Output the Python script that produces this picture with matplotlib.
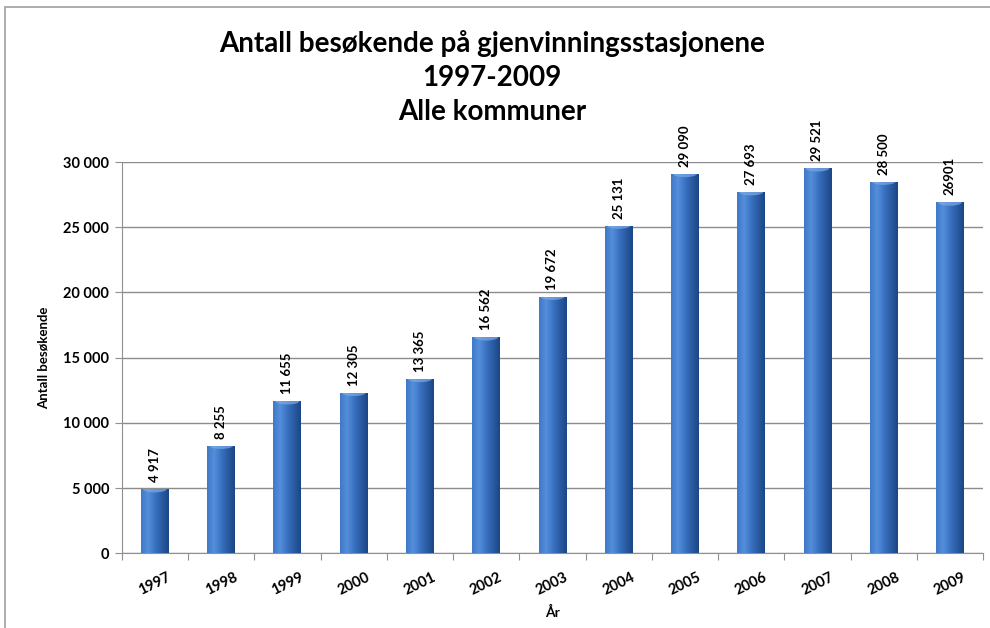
import numpy as np
import matplotlib.pyplot as plt
from matplotlib.colors import LinearSegmentedColormap
from matplotlib.patches import Rectangle, Ellipse

years = ['1997', '1998', '1999', '2000', '2001', '2002', '2003',
         '2004', '2005', '2006', '2007', '2008', '2009']
visitors = [4917, 8255, 11655, 12305, 13365, 16562, 19672,
            25131, 29090, 27693, 29521, 28500, 26901]
value_labels = ['4 917', '8 255', '11 655', '12 305', '13 365', '16 562', '19 672',
                '25 131', '29 090', '27 693', '29 521', '28 500', '26901']
yticks = [0, 5000, 10000, 15000, 20000, 25000, 30000]
ytick_labels = ['0', '5 000', '10 000', '15 000', '20 000', '25 000', '30 000']

plt.rcParams['font.family'] = ['Lato', 'DejaVu Sans']

fig = plt.figure(figsize=(9.9, 6.28), dpi=100)
ax = fig.add_axes([0.123, 0.119, 0.870, 0.623])

# outer chart border (bottom and right run off the picture)
fig.patches.append(Rectangle((0.005, -0.1), 1.2, 1.089, transform=fig.transFigure,
                             fill=False, edgecolor='#a0a0a0', linewidth=1.2))

x = np.arange(len(years))
bars = ax.bar(x, visitors, width=0.42, color='#3a70bd', zorder=3)

# cylinder-like shading on each bar
cmap = LinearSegmentedColormap.from_list('bar', ['#3f78c6', '#558fdc', '#3a73c2', '#2a5ca3', '#1c4785'])
grad = np.linspace(0, 1, 64).reshape(1, -1)
for b in bars:
    x0, w, h = b.get_x(), b.get_width(), b.get_height()
    im = ax.imshow(grad, cmap=cmap, aspect='auto', extent=[x0, x0 + w, 0, h], zorder=4)
    im.set_clip_path(b)
    # light cap on top
    cap = Ellipse((x0 + w / 2, h), w * 0.85, 500, color='#7eaae6', alpha=0.7, zorder=5, linewidth=0)
    ax.add_patch(cap)
    cap.set_clip_path(b)

for xi, v, lab in zip(x, visitors, value_labels):
    ax.annotate(lab, (xi, v), xytext=(0, 5), textcoords='offset points',
                rotation=90, ha='center', va='bottom', fontsize=9.5, fontweight='bold')

ax.set_xlim(-0.5, len(years) - 0.5)
ax.set_ylim(0, 30000)
ax.set_yticks(yticks)
ax.set_yticklabels(ytick_labels, fontsize=10.5, fontweight='bold')
ax.set_xticks(np.arange(-0.5, len(years), 1), minor=False)
ax.set_xticklabels([])
ax.set_xticks(x, minor=True)
ax.set_xticklabels(years, minor=True, rotation=26, fontsize=10.5, fontweight='bold')
ax.tick_params(axis='x', which='minor', length=0, pad=12)
ax.tick_params(axis='x', which='major', length=5, color='#909090')
ax.tick_params(axis='y', length=5, color='#909090', pad=4)
ax.grid(axis='y', color='#8c8c8c', linewidth=1.0, zorder=0)
for s in ['top', 'right']:
    ax.spines[s].set_visible(False)
ax.spines['left'].set_color('#909090')
ax.spines['bottom'].set_color('#909090')

ax.set_ylabel('Antall besøkende', fontsize=9.5, fontweight='bold', labelpad=10)
ax.set_xlabel('År', fontsize=10, fontweight='bold', labelpad=6)

fig.text(0.497, 0.876, 'Antall besøkende på gjenvinningsstasjonene\n1997-2009\nAlle kommuner',
         ha='center', va='center', fontsize=20, fontweight='bold', linespacing=1.38)

fig.savefig('out.png', dpi=100)
